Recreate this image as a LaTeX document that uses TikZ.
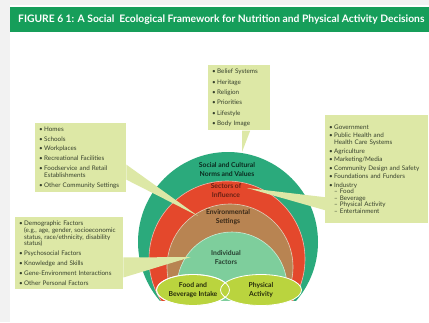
\documentclass[tikz,border=0pt]{standalone}
\usepackage{fontspec}
\setmainfont{Lato}
\usetikzlibrary{shapes.geometric, positioning}

\definecolor{hdrgreen}{RGB}{22,158,90}
\definecolor{ringteal}{RGB}{43,170,124}
\definecolor{ringred}{RGB}{228,72,44}
\definecolor{ringbrown}{RGB}{184,132,82}
\definecolor{ringmint}{RGB}{126,206,156}
\definecolor{ovalgreen}{RGB}{186,212,62}
\definecolor{notebg}{RGB}{221,232,166}
\definecolor{notetext}{RGB}{55,65,45}

\newcommand{\bul}{\makebox[5pt][l]{\textbullet}}
\newcommand{\cont}{\hspace*{5pt}}
\newcommand{\notefont}{\fontsize{6.3}{6.6}\selectfont}
\newcommand{\ringfont}{\fontsize{6.8}{9}\selectfont\bfseries}

\tikzset{
  note/.style={fill=notebg, inner sep=4pt, align=left, font=\notefont,
    text=notetext, anchor=north west},
  pointer/.style={fill=notebg},
  ringlabel/.style={align=center, font=\ringfont},
  oval/.style={ellipse, fill=ovalgreen, draw=white, line width=0.8pt,
    align=center, font=\fontsize{6.8}{9.5}\selectfont\bfseries,
    text=black!80!ovalgreen, inner sep=0pt}
}

\begin{document}
\begin{tikzpicture}[x=1pt, y=-1pt]
\useasboundingbox (0,0) rectangle (429,322);
% page and header
\fill[black!5] (0,0) rectangle (429,322);
\fill[white] (10,5) rectangle (429,322);
\fill[hdrgreen] (10,7) rectangle (429,32);
\node[anchor=west, text=white, font=\fontsize{10.3}{11}\selectfont\bfseries, inner sep=0pt]
  (title) at (18,19.5) {FIGURE 6 1: A Social~ Ecological Framework for Nutrition and Physical Activity Decisions};

% rings, cut off under the two ovals
\begin{scope}
  \clip (0,0) rectangle (429,300);
  \fill[ringteal] (228,242) circle[radius=90pt];
  \filldraw[fill=ringred, draw=white!60!ringred, line width=0.6pt] (227,259) circle[radius=78pt];
  \filldraw[fill=ringbrown, draw=white!60!ringbrown, line width=0.6pt] (230,267) circle[radius=63pt];
  \filldraw[fill=ringmint, draw=white!60!ringmint, line width=0.6pt] (232,287) circle[radius=55pt];
\end{scope}

% callout boxes
\node[note, text width=54pt] (beliefs) at (208,65) {%
  \bul Belief Systems\\[3.7pt]
  \bul Heritage\\[3.7pt]
  \bul Religion\\[3.7pt]
  \bul Priorities\\[3.7pt]
  \bul Lifestyle\\[3.7pt]
  \bul Body Image};
\node[note, text width=83pt] (settings) at (35,123) {%
  \bul Homes\\[3pt]
  \bul Schools\\[3pt]
  \bul Workplaces\\[3pt]
  \bul Recreational Facilities\\[3pt]
  \bul Foodservice and Retail\\[1pt]
  \cont Establishments\\[3pt]
  \bul Other Community Settings};
\node[note, text width=100pt] (personal) at (15,217) {%
  \bul Demographic Factors\\
  \cont (e.g., age, gender, socioeconomic\\
  \cont status, race/ethnicity, disability\\
  \cont status)\\[3.3pt]
  \bul Psychosocial Factors\\[3.3pt]
  \bul Knowledge and Skills\\[3.3pt]
  \bul Gene-Environment Interactions\\[3.3pt]
  \bul Other Personal Factors};
\node[note, text width=95pt, minimum height=108pt] (sectors) at (325,115) {%
  \bul Government\\[1.9pt]
  \bul Public Health and\\
  \cont Health Care Systems\\[1.9pt]
  \bul Agriculture\\[1.9pt]
  \bul Marketing/Media\\[1.9pt]
  \bul Community Design and Safety\\[1.9pt]
  \bul Foundations and Funders\\[1.9pt]
  \bul Industry\\
  \cont -- Food\\
  \cont -- Beverage\\
  \cont -- Physical Activity\\
  \cont -- Entertainment\\[9pt]};

% pointers from the boxes into the rings
\coordinate (tipsocial) at (242,152);
\coordinate (tipsector) at (247,188);
\coordinate (tipenv) at (198,216);
\coordinate (tipindiv) at (191,257);
\fill[pointer] ([xshift=3pt]beliefs.south) -- (tipsocial) -- ([xshift=11pt]beliefs.south) -- cycle;
\fill[pointer] ([yshift=28pt]settings.south east) -- (tipenv) -- ([yshift=13pt]settings.south east) -- cycle;
\fill[pointer] ([yshift=32pt]personal.south east) -- (tipindiv) -- ([yshift=12pt]personal.south east) -- cycle;
\fill[pointer] ([yshift=-28pt]sectors.west) -- (tipsector) -- ([yshift=-41pt]sectors.west) -- cycle;

% ring labels
\node[ringlabel, text=black!75!ringteal] (social) at (227,169) {Social and Cultural\\Norms and Values};
\node[ringlabel, text=black!55!ringred] (sectorlbl) at (226,191) {Sectors of\\Influence};
\node[ringlabel, text=black!70!ringbrown] (env) at (228,217) {Environmental\\Settings};
\node[ringlabel, text=black!70!ringmint] (indiv) at (226,257) {Individual\\Factors};

% the two decision ovals
\node[oval, minimum width=73pt, minimum height=31pt] (food) at (193,290) {Food and\\Beverage Intake};
\node[oval, minimum width=81pt, minimum height=31pt] (activity) at (261,290) {Physical\\Activity};
\node[ellipse, draw=white, line width=0.8pt, minimum width=73pt, minimum height=31pt] (foodrim) at (food.center) {};
\end{tikzpicture}
\end{document}
